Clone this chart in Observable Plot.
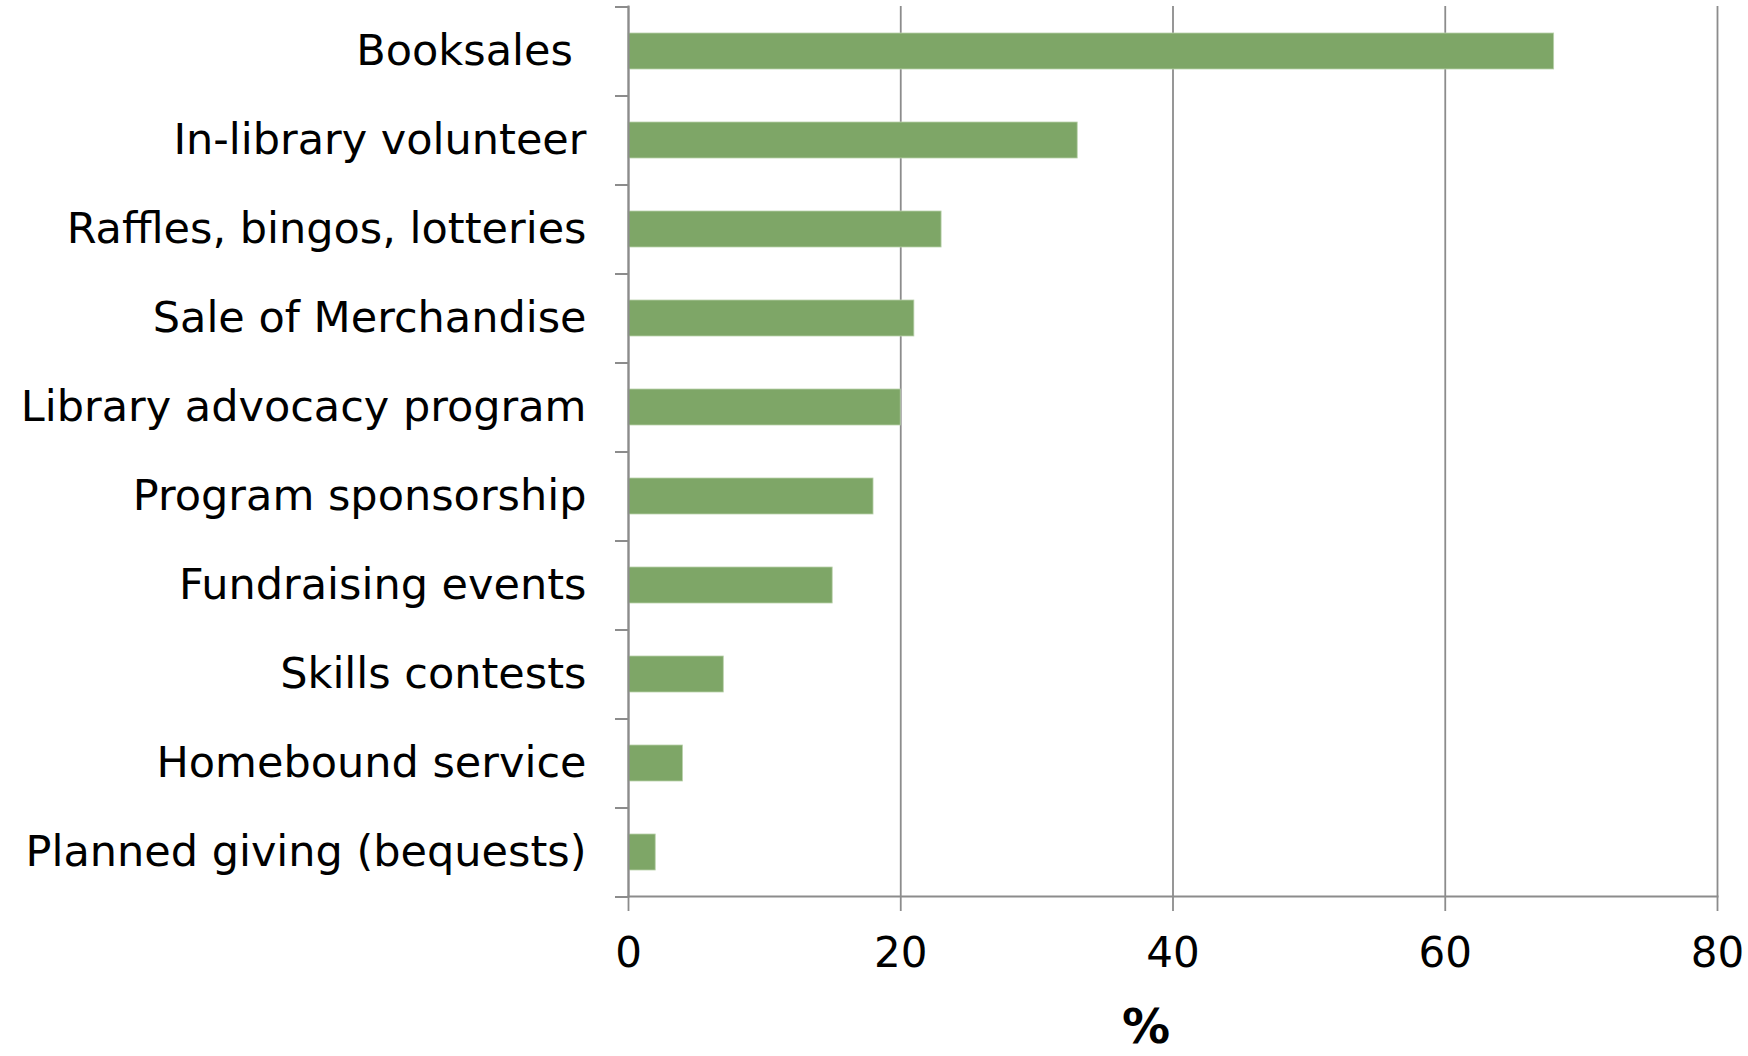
<!DOCTYPE html>
<html>
<head>
<meta charset="utf-8">
<script src="https://cdn.jsdelivr.net/npm/d3@7"></script>
<script src="https://cdn.jsdelivr.net/npm/@observablehq/plot@0.6"></script>
<style>
  html, body { margin: 0; padding: 0; background: #fff; }
  svg text { white-space: pre; }
</style>
</head>
<body>
<div id="chart"></div>
<script>
const categories = [
  "Booksales ",
  "In-library volunteer",
  "Raffles, bingos, lotteries",
  "Sale of Merchandise",
  "Library advocacy program",
  "Program sponsorship",
  "Fundraising events",
  "Skills contests",
  "Homebound service",
  "Planned giving (bequests)"
];
const values = [68, 33, 23, 21, 20, 18, 15, 7, 4, 2];
const xTicks = [0, 20, 40, 60, 80];
const xLabel = "%";

const data = categories.map((c, i) => ({category: c, value: values[i]}));

const gray = "#8c8c8c";
const chart = Plot.plot({
  width: 1748,
  height: 1056,
  marginTop: 6,
  marginBottom: 160,
  marginLeft: 628,
  marginRight: 31,
  style: {fontFamily: "DejaVu Sans, Verdana, sans-serif", fontSize: "42px", color: "#000", background: "#fff"},
  x: {type: "linear", domain: [0, 80]},
  y: {type: "band", domain: categories, paddingInner: 0.6, paddingOuter: 0.3, align: 0.5},
  marks: [
    Plot.gridX(xTicks, {stroke: gray, strokeOpacity: 1, strokeWidth: 1.8}),
    Plot.barX(data, {x: "value", y: "category", fill: "#7ea667", stroke: "#b9d1ab", strokeWidth: 0.8}),
    Plot.axisX(xTicks, {tickSize: 15, tickPadding: 26, stroke: gray, strokeWidth: 1.8, label: null, fontSize: "42px", fill: "#000"}),
    Plot.frame({anchor: "bottom", stroke: gray, strokeWidth: 2}),
    Plot.frame({anchor: "left", stroke: gray, strokeWidth: 2}),
    Plot.axisY({tickSize: 0, tickPadding: 42, label: null, fontSize: "43px", fill: "#000"}),
    Plot.axisY(categories, {tickSize: 13, text: null, dy: -44.5, stroke: gray, strokeWidth: 2, label: null}),
    Plot.axisY(categories.slice(-1), {tickSize: 13, text: null, dy: 44.5, stroke: gray, strokeWidth: 2, label: null}),
    Plot.text([xLabel], {frameAnchor: "bottom", dy: 146, dx: -27, fontWeight: "bold", fontSize: 48, fill: "#000", text: (d) => d})
  ]
});
document.getElementById("chart").appendChild(chart);
</script>
</body>
</html>
